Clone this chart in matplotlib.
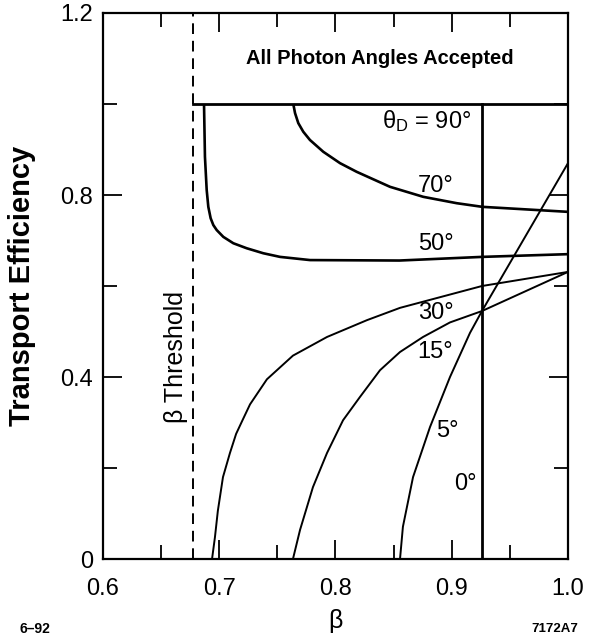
import matplotlib
matplotlib.use("Agg")
import matplotlib.pyplot as plt
from matplotlib.ticker import MultipleLocator

plt.rcParams['font.family'] = ['Liberation Sans', 'DejaVu Sans']
plt.rcParams['mathtext.fontset'] = 'custom'
plt.rcParams['mathtext.rm'] = 'Liberation Sans'
plt.rcParams['mathtext.it'] = 'Liberation Sans'

# ---- data ----
beta_threshold = 0.677
beta_zero_deg = 0.926
full_accept_level = 1.0

b70 = [0.7637, 0.7652, 0.768, 0.7723, 0.778, 0.7895, 0.8039, 0.8182, 0.8469, 0.8755, 0.9043, 0.9263, 1.0]
e70 = [1.0, 0.980, 0.958, 0.939, 0.921, 0.895, 0.870, 0.851, 0.818, 0.796, 0.782, 0.774, 0.763]

b50 = [0.6869, 0.6877, 0.6892, 0.6906, 0.6926, 0.6949, 0.6978, 0.7035, 0.7121, 0.7236, 0.7379, 0.7523, 0.7781, 0.855, 0.926, 1.0]
e50 = [1.0, 0.884, 0.811, 0.774, 0.749, 0.734, 0.723, 0.708, 0.694, 0.683, 0.672, 0.664, 0.657, 0.656, 0.664, 0.670]

b30 = [0.6938, 0.6963, 0.6988, 0.7032, 0.7092, 0.7145, 0.7200, 0.7265, 0.7410, 0.7634, 0.7927, 0.8271, 0.8555, 0.926, 1.0]
e30 = [0.0, 0.048, 0.106, 0.180, 0.233, 0.275, 0.305, 0.340, 0.395, 0.447, 0.488, 0.525, 0.552, 0.600, 0.631]

b15 = [0.7634, 0.7695, 0.7806, 0.7927, 0.8065, 0.821, 0.8383, 0.8555, 0.8753, 0.8985, 0.926, 1.0]
e15 = [0.0, 0.064, 0.158, 0.233, 0.305, 0.356, 0.415, 0.455, 0.488, 0.520, 0.545, 0.631]

b5 = [0.8555, 0.858, 0.8667, 0.8813, 0.8985, 0.9157, 0.926, 1.0]
e5 = [0.0, 0.071, 0.180, 0.290, 0.400, 0.497, 0.545, 0.870]

curve_labels = ["70°", "50°", "30°", "15°", "5°", "0°"]
label_beta = [0.886, 0.886, 0.886, 0.886, 0.896, 0.912]
label_eff = [0.820, 0.692, 0.541, 0.455, 0.281, 0.165]

x_ticks = [0.6, 0.7, 0.8, 0.9, 1.0]
x_tick_labels = ["0.6", "0.7", "0.8", "0.9", "1.0"]
y_ticks = [0, 0.4, 0.8, 1.2]
y_tick_labels = ["0", "0.4", "0.8", "1.2"]

# ---- figure ----
fig = plt.figure(figsize=(5.94, 6.37), dpi=100)
ax = fig.add_axes([0.1734, 0.1224, 0.7828, 0.8572])
ax.set_xlim(0.6, 1.0)
ax.set_ylim(0, 1.2)

ax.plot(b70, e70, color='black', lw=1.9, solid_capstyle='butt')
ax.plot(b50, e50, color='black', lw=1.9, solid_capstyle='butt')
ax.plot(b30, e30, color='black', lw=1.4)
ax.plot(b15, e15, color='black', lw=1.4)
ax.plot(b5, e5, color='black', lw=1.4)

ax.plot([beta_threshold, 1.0], [full_accept_level, full_accept_level], color='black', lw=2.0)
ax.plot([beta_zero_deg, beta_zero_deg], [0, full_accept_level], color='black', lw=2.0)
ax.plot([beta_threshold, beta_threshold], [0, 1.2], color='black', lw=1.4,
        linestyle=(0, (5.5, 3.5)))

for lab, bx, ey in zip(curve_labels, label_beta, label_eff):
    ax.text(bx, ey, lab, fontsize=17, ha='center', va='center')

ax.text(0.878, 0.962, r'$\mathregular{\theta_D}$ = 90°', fontsize=17, ha='center', va='center')
ax.text(0.838, 1.1, 'All Photon Angles Accepted', fontsize=14.5, fontweight='bold',
        ha='center', va='center')
ax.text(0.663, 0.444, 'β Threshold', fontsize=18, rotation=90, ha='center', va='center')

ax.set_xticks(x_ticks)
ax.set_xticklabels(x_tick_labels)
ax.set_yticks(y_ticks)
ax.set_yticklabels(y_tick_labels)
ax.xaxis.set_minor_locator(MultipleLocator(0.05))
ax.yaxis.set_minor_locator(MultipleLocator(0.2))
ax.tick_params(which='both', direction='in', top=True, right=True, width=1.3)
ax.tick_params(which='major', length=14, labelsize=17)
ax.tick_params(axis='x', which='major', pad=14)
ax.tick_params(axis='y', which='major', pad=7)
ax.tick_params(which='minor', length=10)
for s in ax.spines.values():
    s.set_linewidth(1.6)

ax.set_xlabel('β', fontsize=18)
ax.set_ylabel('Transport Efficiency', fontsize=21, fontweight='bold')
ax.xaxis.set_label_coords(0.5, -0.092)
ax.yaxis.set_label_coords(-0.145, 0.5)

fig.text(20/594, 1 - 629/637, '6–92', fontsize=10, fontweight='bold', ha='left', va='center')
fig.text(578/594, 1 - 629/637, '7172A7', fontsize=9.5, fontweight='bold', ha='right', va='center')

fig.savefig('out.png', dpi=100)
